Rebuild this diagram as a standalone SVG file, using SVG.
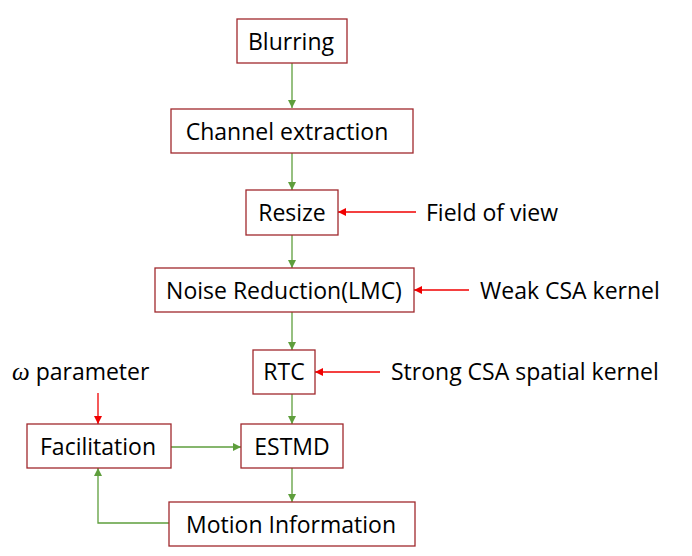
<svg xmlns="http://www.w3.org/2000/svg" width="692" height="556" viewBox="0 0 692 556">
<style>
.box{fill:#fff;stroke:#A0282D;stroke-width:1.3}
.t{font-family:"Open Sans","Liberation Sans",sans-serif;font-size:23px;fill:#000}
.g{stroke:#5E9E3C;stroke-width:1.3;fill:none}
.r{stroke:#F00000;stroke-width:1.3;fill:none}
</style>
<defs>
<marker id="ag" viewBox="0 0 10 10" refX="10" refY="5" markerWidth="8" markerHeight="8" markerUnits="userSpaceOnUse" orient="auto"><path d="M0,0L10,5L0,10z" fill="#5E9E3C"/></marker>
<marker id="ar" viewBox="0 0 10 10" refX="10" refY="5" markerWidth="8" markerHeight="8" markerUnits="userSpaceOnUse" orient="auto"><path d="M0,0L10,5L0,10z" fill="#F00000"/></marker>
</defs>
<rect width="692" height="556" fill="#fff"/>
<g id="connectors">
<line class="g" x1="292" y1="63" x2="292" y2="108" marker-end="url(#ag)"/>
<line class="g" x1="292" y1="153" x2="292" y2="190" marker-end="url(#ag)"/>
<line class="g" x1="292" y1="235" x2="292" y2="268" marker-end="url(#ag)"/>
<line class="g" x1="292" y1="312" x2="292" y2="350" marker-end="url(#ag)"/>
<line class="g" x1="292" y1="394" x2="292" y2="424" marker-end="url(#ag)"/>
<line class="g" x1="292" y1="468" x2="292" y2="502" marker-end="url(#ag)"/>
<line class="g" x1="171" y1="447" x2="241" y2="447" marker-end="url(#ag)"/>
<polyline class="g" points="169,523 98,523 98,468" marker-end="url(#ag)"/>
<line class="r" x1="416" y1="212" x2="338" y2="212" marker-end="url(#ar)"/>
<line class="r" x1="469" y1="290" x2="414" y2="290" marker-end="url(#ar)"/>
<line class="r" x1="380" y1="372" x2="315" y2="372" marker-end="url(#ar)"/>
<line class="r" x1="98" y1="393" x2="98" y2="424" marker-end="url(#ar)"/>
</g>
<g id="blurring"><rect class="box" x="237" y="19" width="110" height="44"/><text class="t" x="291" y="50" text-anchor="middle">Blurring</text></g>
<g id="channel"><rect class="box" x="171" y="109" width="242" height="44"/><text class="t" x="287" y="140" text-anchor="middle">Channel extraction</text></g>
<g id="resize"><rect class="box" x="246" y="190" width="92" height="45"/><text class="t" x="292" y="221" text-anchor="middle">Resize</text></g>
<g id="fov"><text class="t" x="426" y="221">Field of view</text></g>
<g id="noise"><rect class="box" x="155" y="268" width="259" height="44"/><text class="t" x="284" y="299" text-anchor="middle">Noise Reduction(LMC)</text></g>
<g id="weak"><text class="t" x="480" y="299">Weak CSA kernel</text></g>
<g id="rtc"><rect class="box" x="253" y="350" width="62" height="44"/><text class="t" x="284" y="380" text-anchor="middle">RTC</text></g>
<g id="strong"><text class="t" x="391" y="380">Strong CSA spatial kernel</text></g>
<g id="omega"><text class="t" x="12" y="380"><tspan font-family="'Liberation Serif',serif" font-style="italic" font-size="25px">ω</tspan> parameter</text></g>
<g id="facilitation"><rect class="box" x="27" y="424" width="144" height="44"/><text class="t" x="98" y="455" text-anchor="middle">Facilitation</text></g>
<g id="estmd"><rect class="box" x="241" y="424" width="102" height="44"/><text class="t" x="292" y="455" text-anchor="middle">ESTMD</text></g>
<g id="motion"><rect class="box" x="169" y="502" width="246" height="44"/><text class="t" x="291" y="533" text-anchor="middle">Motion Information</text></g>
</svg>
